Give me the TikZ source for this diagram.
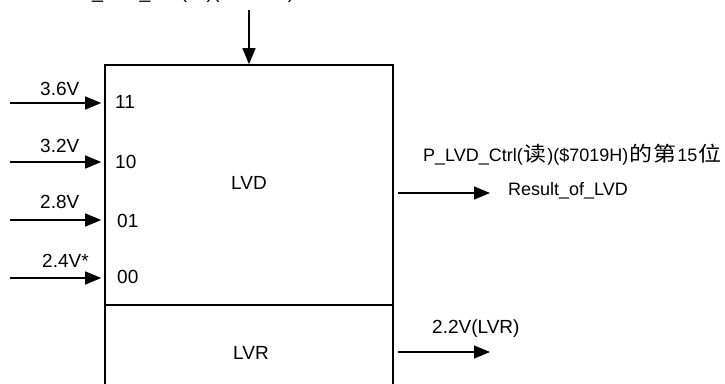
\documentclass[tikz,border=0pt]{standalone}
\usepackage{fontspec}
\setmainfont{Liberation Sans}
\newfontfamily\cjk{Noto Sans CJK SC}
\usetikzlibrary{arrows.meta}
\newcommand{\cjbox}[1]{\makebox[24.5pt]{\scalebox{1.12}[1]{\fontsize{20.5}{24}\selectfont\cjk #1}}}
\tikzset{
  txt/.style={inner sep=0pt, anchor=base west, font=\fontsize{18}{22}\selectfont},
  big/.style={txt, font=\fontsize{19}{23}\selectfont},
  blk/.style={draw, line width=1.6pt, inner sep=0pt},
  arr/.style={line width=1.3pt, -{Triangle[length=16pt,width=13pt]}},
}
\begin{document}
\begin{tikzpicture}[x=1pt,y=-1pt]
\useasboundingbox (0,0) rectangle (725,383);
% blocks
\node[blk, minimum width=288pt, minimum height=240pt] (lvd) at (249,185) {};
\node[blk, minimum width=288pt, minimum height=120pt] (lvr) at (249,365) {};
\node[big, anchor=center] (lvdt) at (249,183) {LVD};
\node[big, anchor=center] (lvrt) at (251,352.5) {LVR};
% top (cut) text and arrow
\node[txt, anchor=base west, font=\fontsize{19.5}{23}\selectfont] (toptxt) at (79,-2) {P\_LVD\_Ctrl({\cjk 写})(\$7019H)};
\coordinate (tin) at (249,10);
\draw[arr] (tin) -- (lvd.north);
% input arrows
\coordinate (i1) at (10,103);
\coordinate (i2) at (10,162);
\coordinate (i3) at (10,220);
\coordinate (i4) at (10,278);
\draw[arr, shorten >=3pt] (i1) -- (i1 -| lvd.west);
\draw[arr, shorten >=3pt] (i2) -- (i2 -| lvd.west);
\draw[arr, shorten >=3pt] (i3) -- (i3 -| lvd.west);
\draw[arr, shorten >=3pt] (i4) -- (i4 -| lvd.west);
\node[big] (v1) at (40,95) {3.6V};
\node[big] (v2) at (40,152) {3.2V};
\node[big] (v3) at (40,208) {2.8V};
\node[big] (v4) at (42,267) {2.4V*};
\node[big] (c1) at (115,108) {11};
\node[big] (c2) at (115,168) {10};
\node[big] (c3) at (117,227) {01};
\node[big] (c4) at (117,283) {00};
% outputs
\coordinate (o1) at (490,193);
\coordinate (o2) at (490,352);
\draw[arr, shorten <=4pt] (o1 -| lvd.east) -- (o1);
\draw[arr, shorten <=4pt] (o2 -| lvr.east) -- (o2);
\node[txt] (r1) at (423,161) {P\_LVD\_Ctrl(\cjbox{读})(\$7019H)\cjbox{的}\cjbox{第}15\cjbox{位}};
\node[txt] (r2) at (508,195) {Result\_of\_LVD};
\node[big] (r3) at (432,333) {2.2V(LVR)};
\end{tikzpicture}
\end{document}
